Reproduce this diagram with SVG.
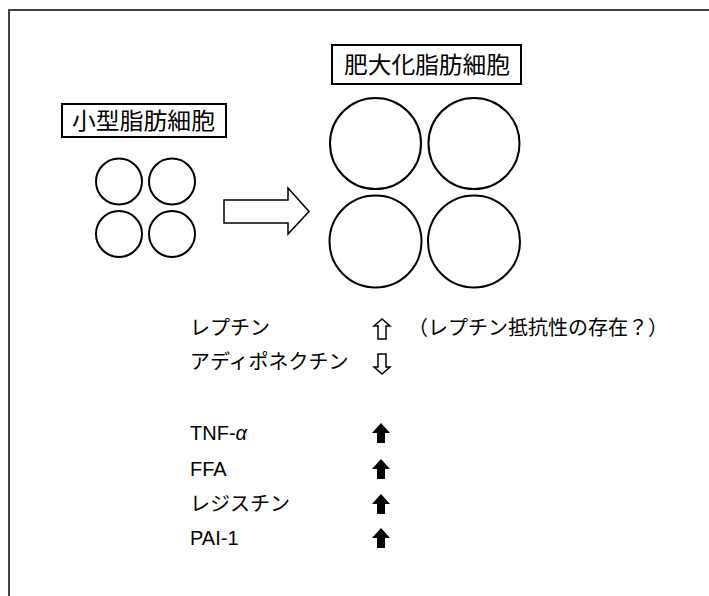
<svg xmlns="http://www.w3.org/2000/svg" width="709" height="596" viewBox="0 0 709 596">
<style>
.jp{font-family:"Noto Sans CJK JP","Noto Sans CJK SC",sans-serif;font-size:20px;fill:#000}
.lat{font-family:"Liberation Sans",Arial,sans-serif;font-size:20px;fill:#000}
.lbl{font-family:"Noto Sans CJK JP","Noto Sans CJK SC",sans-serif;font-size:23px;fill:#000}
.box{fill:#fff;stroke:#000;stroke-width:2}
.cell{fill:#fff;stroke:#000;stroke-width:2}
.hollow{fill:#fff;stroke:#000;stroke-width:1.5;stroke-linejoin:miter}
.solid{fill:#000;stroke:none}
</style>
<rect width="709" height="596" fill="#fff"/>
<path d="M9 596 V10 H709" fill="none" stroke="#444" stroke-width="2"/>

<g id="small-label">
<rect class="box" x="62" y="104" width="164" height="33"/>
<text class="lbl" x="72" y="129" textLength="143" lengthAdjust="spacingAndGlyphs">小型脂肪細胞</text>
</g>
<g id="small-cells">
<circle class="cell" cx="119" cy="181.5" r="23"/>
<circle class="cell" cx="172" cy="181.5" r="23"/>
<circle class="cell" cx="119" cy="234" r="23"/>
<circle class="cell" cx="172" cy="234" r="23"/>
</g>
<g id="connectors">
<path class="hollow" d="M224 200 H288 V188 L309 211.5 L288 234 V223 H224 Z" stroke-width="2"/>
</g>
<g id="large-label">
<rect class="box" x="332" y="45" width="189" height="39"/>
<text class="lbl" x="344" y="73" textLength="166" lengthAdjust="spacingAndGlyphs">肥大化脂肪細胞</text>
</g>
<g id="large-cells">
<circle class="cell" cx="375.5" cy="143.5" r="45.5"/>
<circle class="cell" cx="474" cy="143.5" r="45.5"/>
<circle class="cell" cx="375.5" cy="241.5" r="46"/>
<circle class="cell" cx="474" cy="241.5" r="46"/>
</g>

<g id="row-leptin">
<text class="jp" x="190" y="335">レプチン</text>
<path class="hollow" d="M382 319 L374 326 H378 V339 H386 V326 H390 Z"/>
<text class="jp" x="408" y="335">（レプチン抵抗性の存在？）</text>
</g>
<g id="row-adiponectin">
<text class="jp" x="190" y="369">アディポネクチン</text>
<path class="hollow" d="M382 374 L374 367 H378 V354 H386 V367 H390 Z"/>
</g>
<g id="row-tnf">
<text class="lat" x="190" y="440">TNF-<tspan font-style="italic">α</tspan></text>
<path class="solid" d="M381 423 L372 433 H377 V443 H385 V433 H390 Z"/>
</g>
<g id="row-ffa">
<text class="lat" x="190" y="476">FFA</text>
<path class="solid" d="M381 459 L372 469 H377 V479 H385 V469 H390 Z"/>
</g>
<g id="row-resistin">
<text class="jp" x="190" y="511">レジスチン</text>
<path class="solid" d="M381 494 L372 504 H377 V514 H385 V504 H390 Z"/>
</g>
<g id="row-pai">
<text class="lat" x="190" y="545">PAI-1</text>
<path class="solid" d="M381 528 L372 538 H377 V548 H385 V538 H390 Z"/>
</g>
</svg>
